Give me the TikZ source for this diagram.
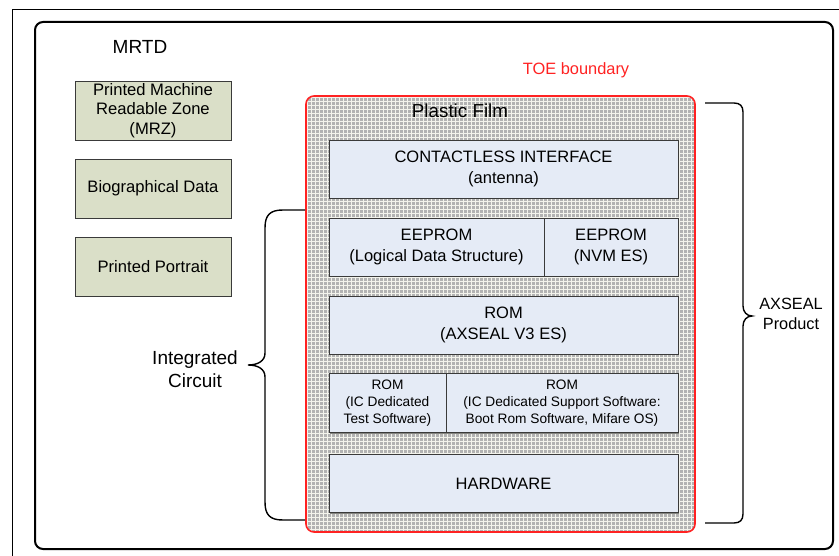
\documentclass[tikz,border=0pt]{standalone}
\usepackage{fontspec}
\setmainfont{Liberation Sans}
\usetikzlibrary{shadows}
\definecolor{greenfill}{HTML}{DADFC8}
\definecolor{bluefill}{HTML}{E5EBF6}
\definecolor{boxline}{HTML}{3A3A3A}
\definecolor{toered}{HTML}{FF2222}
\definecolor{patgray}{HTML}{B2B2B2}
\definecolor{patline}{HTML}{F3F3EC}
\tikzset{
  greenbox/.style={draw=boxline, fill=greenfill, line width=0.9pt, inner sep=0pt, align=center,
    minimum width=156pt, minimum height=59pt, font=\fontsize{16.6}{19.5}\selectfont},
  bluebox/.style={draw=boxline, fill=bluefill, line width=0.9pt, inner sep=0pt, align=center,
    minimum height=58pt, font=\fontsize{16.5}{20.5}\selectfont,
    drop shadow={shadow xshift=1.2pt, shadow yshift=-1.2pt, fill=black, opacity=0.45}},
  smallbox/.style={bluebox, font=\fontsize{13.7}{17}\selectfont, minimum height=59pt},
  label/.style={inner sep=0pt, align=center},
  bracel/.style={draw=black, line width=1.4pt},
}
\begin{document}
\begin{tikzpicture}[x=1pt, y=-1pt]
\useasboundingbox (0,0) rectangle (839,556);
% outer thin frame
\draw[line width=1pt] (12,560) -- (12,10) -- (845,10);
% MRTD rounded frame
\draw[line width=2pt, rounded corners=8pt] (35,22) rectangle (833,549);
\node[label, font=\fontsize{19}{23}\selectfont] (mrtd) at (140,47) {MRTD};
% printed elements
\node[greenbox] (mrz) at (153,110.5) {Printed Machine\\Readable Zone\\(MRZ)};
\node[greenbox] (bio) at (153,188.5) {Biographical Data};
\node[greenbox] (portrait) at (153,266.5) {Printed Portrait};
% TOE boundary
\node[label, text=toered, font=\fontsize{16.4}{19}\selectfont] (toe) at (576,70) {TOE boundary};
\begin{scope}
  \clip[rounded corners=8pt] (306,96) rectangle (695,532);
  \fill[patgray] (306,96) rectangle (695,532);
  \foreach \i in {0,...,98} {
    \draw[patline, line width=1.1pt] (307.5+4*\i,90) -- (307.5+4*\i,540);
  }
  \foreach \j in {0,...,110} {
    \draw[patline, line width=1.1pt] (300,97.5+4*\j) -- (700,97.5+4*\j);
  }
\end{scope}
\draw[toered, line width=1.6pt, rounded corners=8pt] (306,96) rectangle (695,532);
\node[label, font=\fontsize{18.8}{22}\selectfont] (film) at (460,111) {Plastic Film};
% chip layers
\node[bluebox, minimum width=349pt] (cl) at (503.5,169) {CONTACTLESS INTERFACE\\(antenna)};
\node[bluebox, minimum width=215pt] (ee1) at (436.5,247) {EEPROM\\(Logical Data Structure)};
\node[bluebox, minimum width=134pt] (ee2) at (611,247) {EEPROM\\(NVM ES)};
\node[bluebox, minimum width=349pt] (rom) at (503.5,325) {ROM\\(AXSEAL V3 ES)};
\node[smallbox, minimum width=117pt] (rom1) at (387.5,403) {ROM\\(IC Dedicated\\Test Software)};
\node[smallbox, minimum width=232pt] (rom2) at (562,403) {ROM\\(IC Dedicated Support Software:\\Boot Rom Software, Mifare OS)};
\node[bluebox, minimum width=349pt] (hw) at (503.5,483.5) {HARDWARE};
% left brace: Integrated Circuit
\coordinate (lt) at (305,210);
\coordinate (lb) at (305,520);
\coordinate (ltip) at (248,365);
\draw[bracel] (lt) -- (283,210) .. controls (270,210) and (265,215) .. (265,228)
  -- (265,353) .. controls (265,361) and (258,365) .. (ltip)
  .. controls (258,365) and (265,369) .. (265,377)
  -- (265,502) .. controls (265,515) and (270,520) .. (283,520) -- (lb);
\node[label, font=\fontsize{19}{23}\selectfont] (ic) at (195,369) {Integrated\\Circuit};
% right brace: AXSEAL Product
\coordinate (rt) at (705,103);
\coordinate (rb) at (705,523);
\coordinate (rtip) at (752,316);
\draw[bracel] (rt) -- (734,103) .. controls (740,103) and (743,106) .. (743,112)
  -- (743,306) .. controls (743,312) and (747,316) .. (rtip)
  .. controls (747,316) and (743,320) .. (743,326)
  -- (743,514) .. controls (743,520) and (740,523) .. (734,523) -- (rb);
\node[label, font=\fontsize{16.3}{20}\selectfont] (ax) at (791,314) {AXSEAL\\Product};
\end{tikzpicture}
\end{document}
